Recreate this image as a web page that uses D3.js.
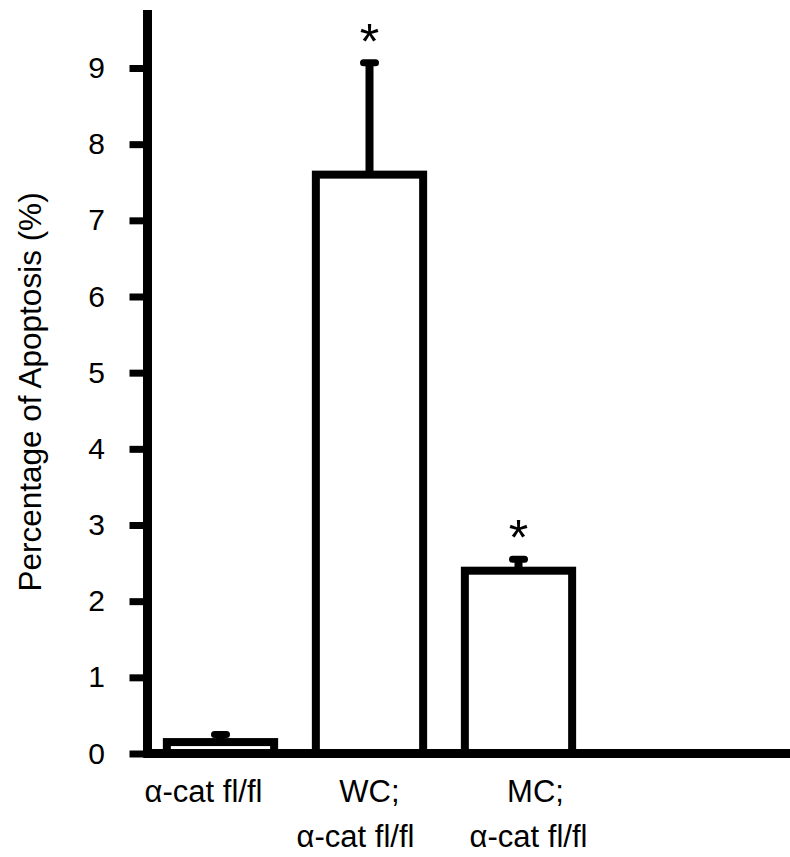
<!DOCTYPE html>
<html>
<head>
<meta charset="utf-8">
<script src="https://cdn.jsdelivr.net/npm/d3@7"></script>
<style>
  body { margin: 0; background: #fff; }
  text { font-family: "Liberation Sans", Arial, Helvetica, sans-serif; fill: #000; }
</style>
</head>
<body>
<svg id="chart" width="790" height="857"></svg>
<script>
// data
const groups = ["g1", "g2", "g3"];
const labelLines = [["\u03b1-cat fl/fl"], ["WC;", "\u03b1-cat fl/fl"], ["MC;", "\u03b1-cat fl/fl"]];
const means = [0.15, 7.6, 2.4];
const errors = [0.1, 1.47, 0.15];
const signif = [false, true, true];
const yTicks = [0, 1, 2, 3, 4, 5, 6, 7, 8, 9];
const yTitle = "Percentage of Apoptosis (%)";

// small per-line nudges so labels sit like the original
const labelShift = [[-17], [0, -14], [17, 10]];

const svg = d3.select("#chart"),
      width = +svg.attr("width"),
      height = +svg.attr("height");

const axisX = 147.5;

const x = d3.scaleBand()
    .domain(groups)
    .range([146, 593])
    .paddingInner(0.28)
    .paddingOuter(0.14);

const y = d3.scaleLinear()
    .domain([0, 9])
    .range([753.5, 68]);

// bars
svg.append("g")
    .selectAll("rect")
    .data(groups)
    .enter().append("rect")
    .attr("x", d => x(d))
    .attr("y", (d, i) => y(means[i]))
    .attr("width", x.bandwidth())
    .attr("height", (d, i) => y(0) - y(means[i]))
    .attr("fill", "#fff")
    .attr("stroke", "#000")
    .attr("stroke-width", 8);

// error bars (upper only)
const err = svg.append("g")
    .selectAll("g")
    .data(groups)
    .enter().append("g");

err.append("line")
    .attr("x1", d => x(d) + x.bandwidth() / 2)
    .attr("x2", d => x(d) + x.bandwidth() / 2)
    .attr("y1", (d, i) => y(means[i]))
    .attr("y2", (d, i) => y(means[i] + errors[i]))
    .attr("stroke", "#000")
    .attr("stroke-width", 8);

err.append("line")
    .attr("x1", d => x(d) + x.bandwidth() / 2 - 6)
    .attr("x2", d => x(d) + x.bandwidth() / 2 + 6)
    .attr("y1", (d, i) => y(means[i] + errors[i]))
    .attr("y2", (d, i) => y(means[i] + errors[i]))
    .attr("stroke", "#000")
    .attr("stroke-width", 7)
    .attr("stroke-linecap", "round");

// asterisks
err.filter((d, i) => signif[i])
    .append("text")
    .attr("x", d => x(d) + x.bandwidth() / 2)
    .attr("y", d => y(means[groups.indexOf(d)] + errors[groups.indexOf(d)]) - 4)
    .attr("text-anchor", "middle")
    .attr("font-size", 50)
    .text("*");

// y axis
const yAxis = svg.append("g")
    .attr("transform", `translate(${axisX},0)`)
    .call(d3.axisLeft(y).tickValues(yTicks).tickFormat(d3.format("d")).tickSize(18).tickPadding(24.5));

yAxis.select(".domain").remove();
yAxis.selectAll(".tick line")
    .attr("stroke", "#000")
    .attr("stroke-width", 7);
yAxis.selectAll(".tick text")
    .attr("font-family", "\"Liberation Sans\", Arial, sans-serif")
    .attr("font-size", 30)
    .attr("fill", "#000");

svg.append("line")
    .attr("x1", axisX).attr("x2", axisX)
    .attr("y1", 10).attr("y2", y(0) + 4)
    .attr("stroke", "#000")
    .attr("stroke-width", 9);

// x axis line
svg.append("line")
    .attr("x1", axisX - 4).attr("x2", width)
    .attr("y1", y(0)).attr("y2", y(0))
    .attr("stroke", "#000")
    .attr("stroke-width", 9);

// category labels
const lab = svg.append("g")
    .selectAll("text")
    .data(groups)
    .enter().append("text")
    .attr("text-anchor", "middle")
    .attr("font-size", 31);

lab.each(function(d, i) {
    const t = d3.select(this);
    labelLines[i].forEach((line, j) => {
        t.append("tspan")
            .attr("x", x(d) + x.bandwidth() / 2 + labelShift[i][j])
            .attr("y", 802 + j * 45)
            .text(line);
    });
});

// y title
svg.append("text")
    .attr("transform", "translate(41,392) rotate(-90)")
    .attr("text-anchor", "middle")
    .attr("font-size", 31.5)
    .text(yTitle);
</script>
</body>
</html>
